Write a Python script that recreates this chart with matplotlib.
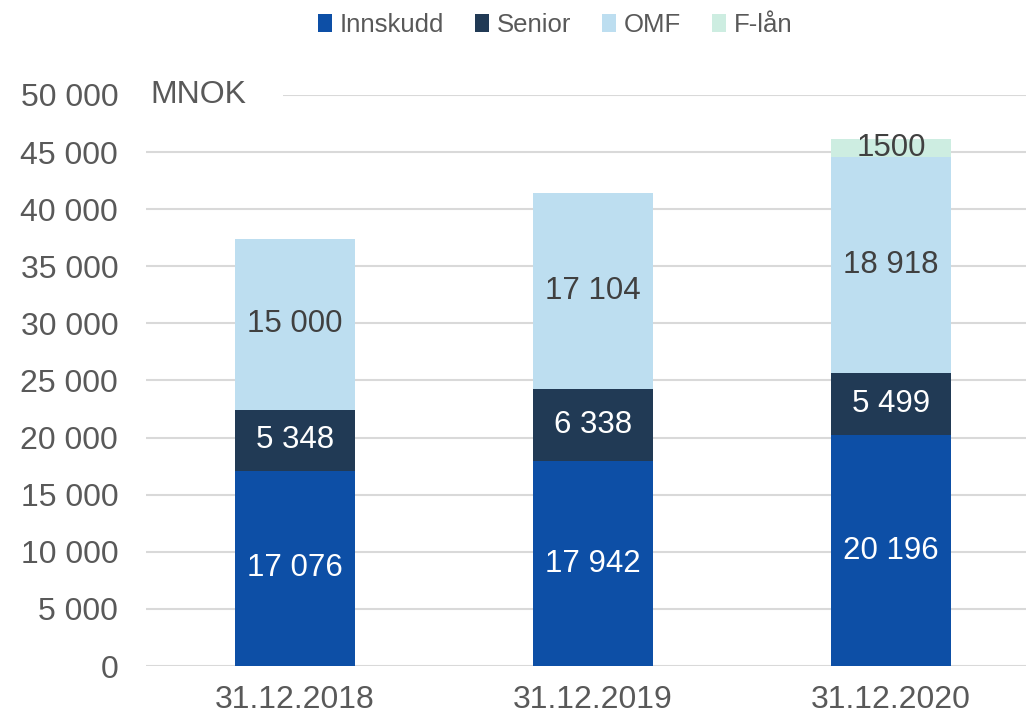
import matplotlib
matplotlib.use('Agg')
import matplotlib.pyplot as plt
from matplotlib.patches import Patch, Rectangle

plt.rcParams['font.family'] = ['Liberation Sans', 'DejaVu Sans']

# data (MNOK)
dates = ['31.12.2018', '31.12.2019', '31.12.2020']
innskudd = [17076, 17942, 20196]
senior = [5348, 6338, 5499]
omf = [15000, 17104, 18918]
flaan = [0, 0, 1500]
series_names = ['Innskudd', 'Senior', 'OMF', 'F-lån']
yticks = [0, 5000, 10000, 15000, 20000, 25000, 30000, 35000, 40000, 45000, 50000]

colors = ['#0D4FA6', '#213A55', '#BDDEF0', '#CDEDE1']
label_colors = ['white', 'white', '#404040', '#404040']
gray = '#595959'

def fmt(v):
    return '{:,}'.format(v).replace(',', ' ')

fig = plt.figure(figsize=[10.26, 7.18], dpi=100)
ax = fig.add_axes([146/1026, 52/718, 894/1026, 571/718])

x = range(len(dates))
bottom = [0, 0, 0]
all_series = [innskudd, senior, omf, flaan]
for k, vals in enumerate(all_series):
    ax.bar(x, vals, 0.4, bottom=bottom, color=colors[k], zorder=3)
    for i in x:
        if vals[i] > 0:
            if k == 3:
                txt = str(vals[i])
            else:
                txt = fmt(vals[i])
            ax.text(i, bottom[i] + vals[i]/2.0, txt, ha='center', va='center',
                    fontsize=22.5, color=label_colors[k], zorder=4)
    bottom = [bottom[i] + vals[i] for i in x]

ax.set_xlim(-0.5, 2.5)
ax.set_ylim(0, 50000)
ax.set_yticks(yticks)
ax.set_yticklabels([fmt(v) for v in yticks])
ax.set_xticks(list(x))
ax.set_xticklabels(dates)
ax.tick_params(axis='both', length=0, labelsize=23, labelcolor=gray)
ax.tick_params(axis='y', pad=20)
ax.tick_params(axis='x', pad=14)
ax.yaxis.grid(True, color='#D9D9D9', linewidth=1.5, zorder=0)
ax.set_axisbelow(True)
for s in ax.spines.values():
    s.set_visible(False)

# white box hiding the top gridline behind the unit label
fig.patches.append(Rectangle((146/1026, 1 - 107/718), (283 - 146)/1026, 24/718,
                             transform=fig.transFigure, facecolor='white',
                             edgecolor='none', zorder=1))
fig.text(150/1026, 1 - 95/718, 'MNOK', fontsize=23, color=gray,
         ha='left', va='center', zorder=2)

handles = [Patch(facecolor=colors[k], edgecolor='none') for k in range(4)]
fig.legend(handles, series_names, loc='center', bbox_to_anchor=(555/1026, 1 - 25/718),
           ncol=4, frameon=False, labelcolor=gray, fontsize=18.5,
           handlelength=0.55, handleheight=0.75, handletextpad=0.3, columnspacing=1.2)

fig.savefig('out.png', dpi=100)
